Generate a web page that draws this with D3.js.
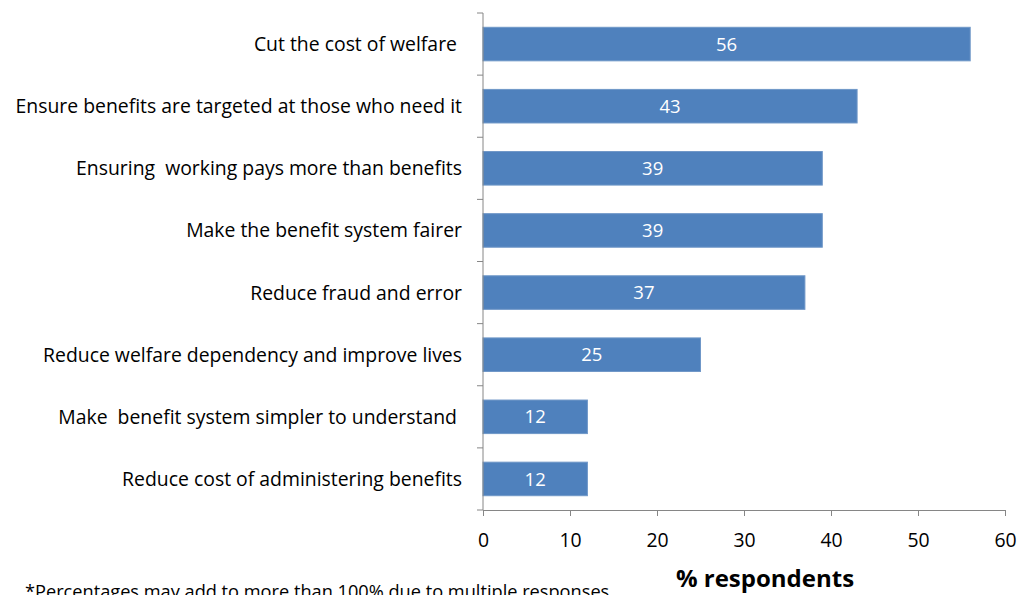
<!DOCTYPE html>
<html>
<head>
<meta charset="utf-8">
<script src="https://cdn.jsdelivr.net/npm/d3@7"></script>
<style>
  html, body { margin: 0; padding: 0; background: #fff; }
  svg text { font-family: "Open Sans", "Noto Sans", sans-serif; white-space: pre; }
</style>
</head>
<body>
<svg id="chart" width="1018" height="595"></svg>
<script>
// Survey responses: priorities for welfare reform
const categories = [
  "Cut the cost of welfare ",
  "Ensure benefits are targeted at those who need it",
  "Ensuring  working pays more than benefits",
  "Make the benefit system fairer",
  "Reduce fraud and error",
  "Reduce welfare dependency and improve lives",
  "Make  benefit system simpler to understand ",
  "Reduce cost of administering benefits"
];
const values = [56, 43, 39, 39, 37, 25, 12, 12];
const xTicks = [0, 10, 20, 30, 40, 50, 60];
const xTitle = "% respondents";
const footnote = "*Percentages may add to more than 100% due to multiple responses";

const svg = d3.select("#chart");
const plotLeft = 483, plotRight = 1005, plotTop = 13, plotBottom = 510;
const axisColor = "#868686";
const labelSize = 19.4;

const x = d3.scaleLinear().domain([0, 60]).range([plotLeft, plotRight]);
const y = d3.scaleBand().domain(categories).range([plotTop, plotBottom]).paddingInner(0.46).paddingOuter(0.23);

// Bars
svg.append("g").selectAll("rect")
  .data(values)
  .join("rect")
  .attr("x", x(0))
  .attr("y", (d, i) => y(categories[i]))
  .attr("width", d => x(d) - x(0))
  .attr("height", y.bandwidth())
  .attr("fill", "#4F81BD")
  .attr("stroke", "#6f97c8")
  .attr("stroke-width", 1);

// Value labels inside bars
svg.append("g").selectAll("text")
  .data(values)
  .join("text")
  .attr("x", d => (x(0) + x(d)) / 2)
  .attr("y", (d, i) => y(categories[i]) + y.bandwidth() / 2)
  .attr("dy", "0.36em")
  .attr("text-anchor", "middle")
  .attr("fill", "#fff")
  .attr("font-size", 18.5)
  .text(d => d);

// Category axis: ticks at band boundaries
const bounds = d3.range(categories.length + 1).map(i => plotTop + i * (plotBottom - plotTop) / categories.length);
const yAxis = svg.append("g");
yAxis.append("line")
  .attr("x1", plotLeft).attr("x2", plotLeft).attr("y1", plotTop).attr("y2", plotBottom)
  .attr("stroke", axisColor);
yAxis.selectAll("line.tick")
  .data(bounds)
  .join("line")
  .attr("class", "tick")
  .attr("x1", plotLeft - 6).attr("x2", plotLeft)
  .attr("y1", d => d).attr("y2", d => d)
  .attr("stroke", axisColor);
yAxis.selectAll("text")
  .data(categories)
  .join("text")
  .attr("x", 462)
  .attr("y", d => y(d) + y.bandwidth() / 2)
  .attr("dy", "0.36em")
  .attr("text-anchor", "end")
  .attr("fill", "#000")
  .attr("font-size", labelSize)
  .text(d => d);

// Value axis
const xAxis = svg.append("g")
  .attr("transform", `translate(0,${plotBottom})`)
  .call(d3.axisBottom(x).tickValues(xTicks).tickSize(6).tickPadding(17).tickSizeOuter(0));
xAxis.select(".domain").attr("stroke", axisColor);
xAxis.selectAll(".tick line").attr("stroke", axisColor);
xAxis.selectAll(".tick text")
  .attr("fill", "#000")
  .attr("font-size", labelSize)
  .attr("font-family", "'Open Sans', sans-serif");

// Axis title
svg.append("text")
  .attr("x", 765).attr("y", 587)
  .attr("text-anchor", "middle")
  .attr("font-size", 24)
  .attr("font-weight", "bold")
  .attr("fill", "#000")
  .text(xTitle);

// Footnote
svg.append("text")
  .attr("x", 25).attr("y", 598)
  .attr("font-size", 18.2)
  .attr("fill", "#000")
  .text(footnote);
</script>
</body>
</html>
